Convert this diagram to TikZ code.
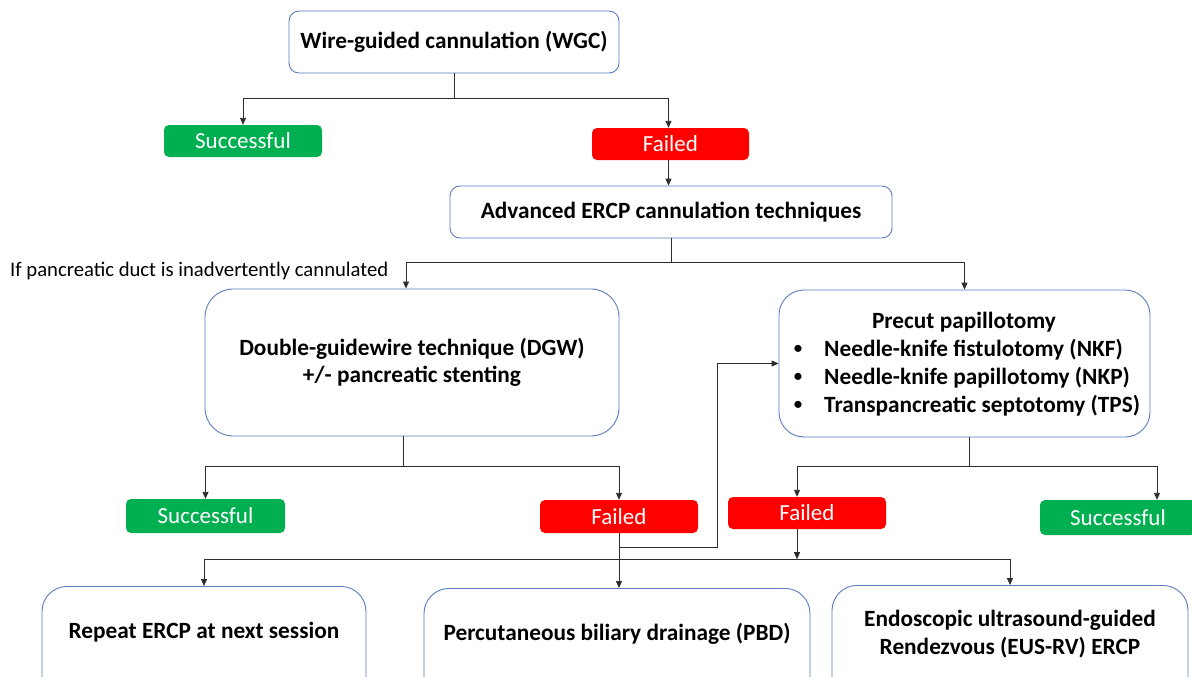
\documentclass[tikz,border=0pt]{standalone}
\usepackage{fontspec}
\setmainfont{Carlito}
\usetikzlibrary{arrows.meta,calc}
\definecolor{boxblue}{RGB}{90,124,192}
\definecolor{okgreen}{RGB}{0,176,80}
\definecolor{failred}{RGB}{255,0,0}
\definecolor{linegray}{RGB}{45,45,45}
\begin{document}
\begin{tikzpicture}[x=1pt,y=-1pt,
  mainbox/.style={draw=boxblue, line width=0.9pt, fill=white, inner sep=0pt},
  bt/.style={font=\bfseries\fontsize{23.3}{27.5}\selectfont},
  okbox/.style={fill=okgreen, text=white, rounded corners=5pt, inner sep=0pt, font=\fontsize{23}{26}\selectfont},
  failbox/.style={fill=failred, text=white, rounded corners=5pt, inner sep=0pt, font=\fontsize{23}{26}\selectfont},
  ln/.style={draw=linegray, line width=0.9pt},
  arr/.style={draw=linegray, line width=0.9pt, -{Triangle[length=7pt,width=6pt]}},
  plain/.style={font=\fontsize{20.7}{24}\selectfont, inner sep=0pt},
  bul/.style={font=\fontsize{20}{24}\selectfont, inner sep=0pt}
]
\useasboundingbox (0,0) rectangle (1192,677);
\clip (0,0) rectangle (1192,677);
\fill[white] (0,0) rectangle (1192,677);

% top
\node[mainbox, bt, rounded corners=10pt, minimum width=330pt, minimum height=62pt] (wgc) at (454,42) {Wire-guided cannulation (WGC)};
\node[okbox, minimum width=158pt, minimum height=32pt] (s1) at (243,141) {Successful};
\node[failbox, minimum width=157pt, minimum height=32pt] (f1) at (670.5,144) {Failed};
\node[mainbox, bt, rounded corners=10pt, minimum width=442pt, minimum height=52pt] (adv) at (671,212) {Advanced ERCP cannulation techniques};

\node[plain, anchor=west] (lbl) at (10,271) {If pancreatic duct is inadvertently cannulated};

% middle
\node[mainbox, bt, align=center, rounded corners=28pt, minimum width=414pt, minimum height=147pt] (dgw) at (412,362.5) {Double-guidewire technique (DGW)\\+/- pancreatic stenting};
\node[mainbox, rounded corners=25pt, minimum width=371pt, minimum height=147pt] (pc) at (964.5,363.5) {};
\node[bt, inner sep=0pt] (pct) at (964,322) {Precut papillotomy};
\node[bul] (pb1) at (798,350) {\textbullet};
\node[bul] (pb2) at (798,378) {\textbullet};
\node[bul] (pb3) at (798,406) {\textbullet};
\node[bt, inner sep=0pt, anchor=west] (pi1) at (824,350) {Needle-knife fistulotomy (NKF)};
\node[bt, inner sep=0pt, anchor=west] (pi2) at (824,378) {Needle-knife papillotomy (NKP)};
\node[bt, inner sep=0pt, anchor=west] (pi3) at (824,406) {Transpancreatic septotomy (TPS)};

\node[okbox, minimum width=159pt, minimum height=34pt] (s2) at (205.5,516) {Successful};
\node[failbox, minimum width=158pt, minimum height=33pt] (f2) at (619,516.5) {Failed};
\node[failbox, minimum width=158pt, minimum height=32pt] (f3) at (807,513) {Failed};
\node[okbox, minimum width=156pt, minimum height=35pt] (s3) at (1118,517.5) {Successful};

% bottom
\node[mainbox, rounded corners=25pt, anchor=north, minimum width=324pt, minimum height=150pt] (rep) at (204,586) {};
\node[mainbox, rounded corners=25pt, anchor=north, minimum width=386pt, minimum height=150pt] (pbd) at (617,588) {};
\node[mainbox, rounded corners=25pt, anchor=north, minimum width=356pt, minimum height=150pt] (eus) at (1010,585) {};
\node[bt, inner sep=0pt] (rept) at (204,632) {Repeat ERCP at next session};
\node[bt, inner sep=0pt] (pbdt) at (617,634) {Percutaneous biliary drainage (PBD)};
\node[bt, inner sep=0pt, align=center] (eust) at (1010,634) {Endoscopic ultrasound-guided\\Rendezvous (EUS-RV) ERCP};

% connectors
\draw[ln] (wgc.south) -- ++(0,25) coordinate (j0);
\draw[arr] (j0) -| (s1.north);
\draw[arr] (j0) -| ([xshift=-2pt]f1.north);
\draw[arr] ([xshift=-2pt]f1.south) -- ([xshift=-2pt]f1.south |- adv.north);
\draw[ln] (adv.south) -- ++(0,24) coordinate (j1);
\draw[arr] (j1) -| ([xshift=-6pt]dgw.north);
\draw[arr] (j1) -| (pc.north);
\draw[ln] ([xshift=-9pt]dgw.south) -- ++(0,30) coordinate (j2);
\draw[arr] (j2) -| (s2.north);
\draw[arr] (j2) -| (f2.north);
\draw[ln] ([xshift=4.5pt]pc.south) -- ++(0,29) coordinate (j3);
\draw[arr] (j3) -| ([xshift=-10pt]f3.north);
\draw[arr] (j3) -| ([xshift=39pt]s3.north);
\draw[arr] (f2.south) -- ++(0,14) -- ++(98,0) |- (pc.west);
\draw[arr] (f2.south) -- (f2.south |- pbd.north);
\draw[arr] ([xshift=-10pt]f3.south) -- ++(0,30) coordinate (j4);
\draw[arr] (j4) -| (rep.north);
\draw[arr] (j4) -| (eus.north);
\end{tikzpicture}
\end{document}
